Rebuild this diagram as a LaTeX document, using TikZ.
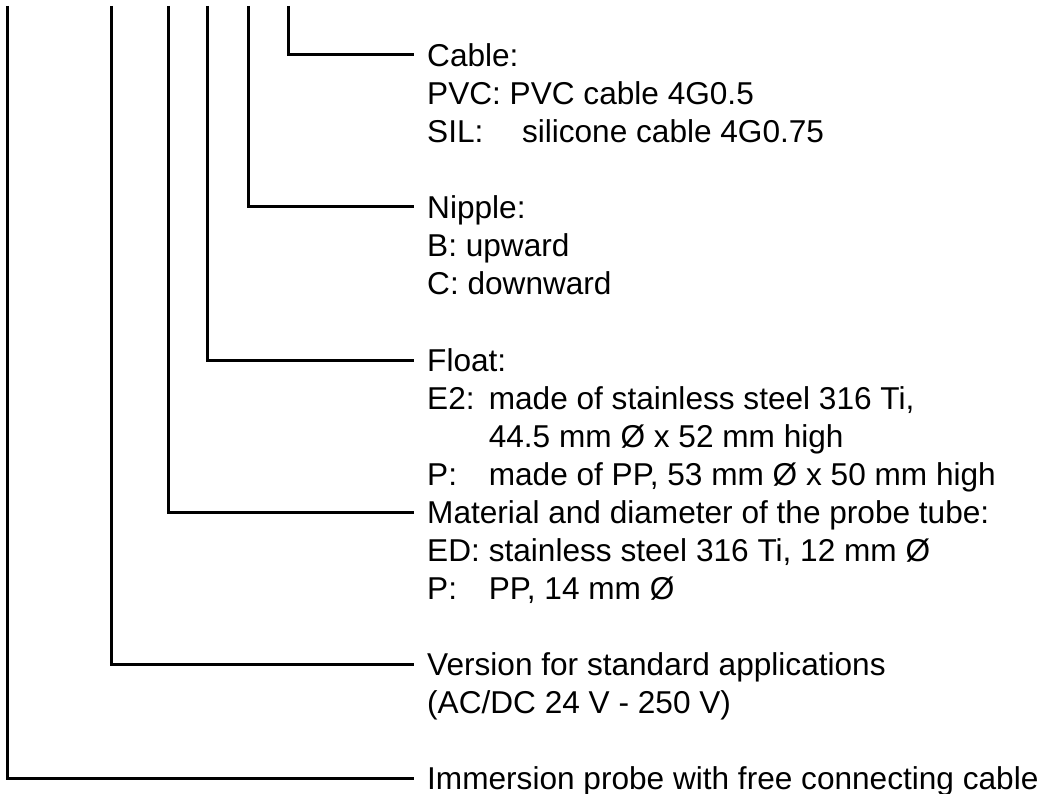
\documentclass[tikz,border=0pt]{standalone}
\usepackage{fontspec}
\setmainfont{Liberation Sans}
\usetikzlibrary{positioning,calc}
\newcommand{\lbl}[1]{\makebox[1.95em][l]{#1}}
\tikzset{
  lead/.style={draw=black,line width=3pt},
  desc/.style={anchor=base west,align=left,inner sep=0pt,
    font=\fontsize{31.6}{38}\selectfont},
}

\begin{document}
\begin{tikzpicture}[x=1pt,y=-1pt]
  \useasboundingbox (0,0) rectangle (1047,794);
  % upper ends of the leads
  \coordinate (t1) at (7,6);
  \coordinate (t2) at (111,6);
  \coordinate (t3) at (168,6);
  \coordinate (t4) at (207,6);
  \coordinate (t5) at (248,6);
  \coordinate (t6) at (288,6);
  % descriptions (placed by the baseline of their last line)
  \node[desc] (cable) at (427,142.3) {Cable:\\PVC: PVC cable 4G0.5\\\makebox[3em][l]{SIL:}silicone cable 4G0.75};
  \node[desc] (nipple) at (427,294.3) {Nipple:\\B: upward\\C: downward};
  \node[desc] (float) at (427,485.3) {Float:\\\lbl{E2:}made of stainless steel 316 Ti,\\\lbl{}44.5 mm Ø x 52 mm high\\\lbl{P:}made of PP, 53 mm Ø x 50 mm high};
  \node[desc] (tube) at (427,599.3) {Material and diameter of the probe tube:\\\lbl{ED:}stainless steel 316 Ti, 12 mm Ø\\\lbl{P:}PP, 14 mm Ø};
  \node[desc] (version) at (427,713.3) {Version for standard applications\\(AC/DC 24 V - 250 V)};
  \node[desc] (probe) at (427,789.3) {Immersion probe with free connecting cable};
  % leads, to the first line of each description
  \draw[lead] (t6) |- ([xshift=-13pt,yshift=87.3pt]cable.base west);
  \draw[lead] (t5) |- ([xshift=-13pt,yshift=87.3pt]nipple.base west);
  \draw[lead] (t4) |- ([xshift=-13pt,yshift=125.3pt]float.base west);
  \draw[lead] (t3) |- ([xshift=-13pt,yshift=87.3pt]tube.base west);
  \draw[lead] (t2) |- ([xshift=-13pt,yshift=49.3pt]version.base west);
  \draw[lead] (t1) |- ([xshift=-13pt,yshift=11.3pt]probe.base west);
\end{tikzpicture}
\end{document}
